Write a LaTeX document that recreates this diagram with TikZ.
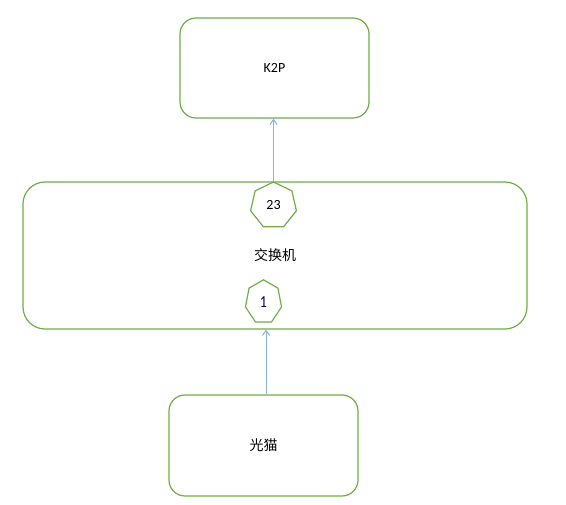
\documentclass[tikz,border=0pt]{standalone}
\usepackage{fontspec}
\setmainfont{Carlito}
\newfontfamily\cjk{Noto Sans CJK SC}
\usetikzlibrary{arrows.meta, shapes.geometric}
\definecolor{boxgreen}{HTML}{70AD47}
\definecolor{linkblue}{HTML}{8AB0E0}
\tikzset{
  device/.style={draw=boxgreen, line width=1.2pt, rounded corners=16pt,
    font=\fontsize{14}{16}\selectfont},
  port/.style={draw=boxgreen, line width=1.2pt, regular polygon,
    regular polygon sides=7, inner sep=0pt, font=\fontsize{14}{16}\selectfont},
  link/.style={->, linkblue, line width=1pt}
}
\begin{document}
\begin{tikzpicture}[x=1pt, y=-1pt, >={Straight Barb[length=5pt, width=7pt]}]
\useasboundingbox (0,0) rectangle (566,505);

% devices
\node[device, minimum width=189pt, minimum height=100pt] (k2p) at (274.5,68) {K2P};
\node[device, rounded corners=22pt, minimum width=504pt, minimum height=147pt] (switch) at (275,255.5) {\cjk 交换机};
\node[device, minimum width=189pt, minimum height=101pt] (modem) at (263.5,445.5) {\cjk 光猫};

% ports on the switch
\node[port, minimum size=47pt] (port23) at (273.5,205.5) {23};
\node[port, minimum size=37pt, yscale=1.2, transform shape, text=black!70!blue] (port1) at (263.5,302) {1};

% links
\draw[link] (modem.north) ++(2.5,0) coordinate (up1) -- (up1 |- switch.south);
\draw[link] (port23.north) -- (port23.north |- k2p.south);

\end{tikzpicture}
\end{document}
